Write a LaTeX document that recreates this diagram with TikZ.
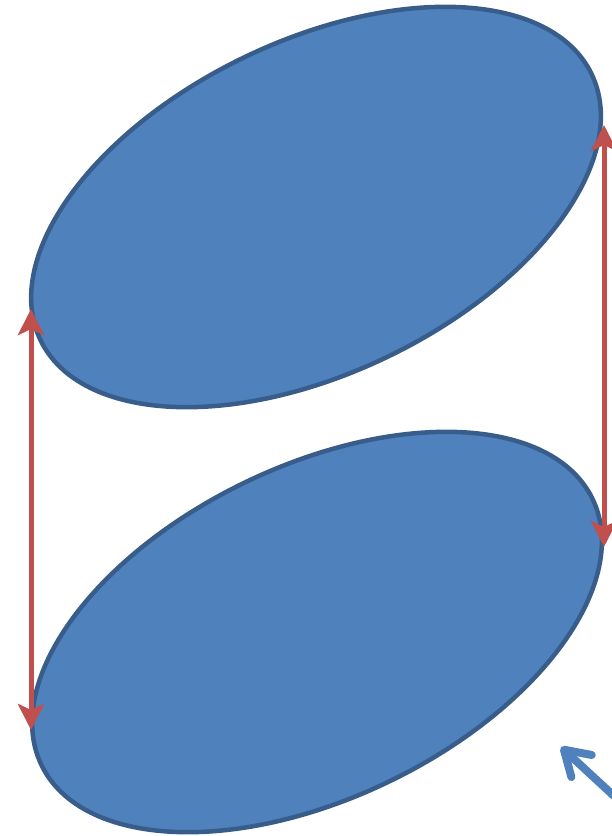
\documentclass[tikz,border=0pt]{standalone}
\usetikzlibrary{shapes.geometric,arrows.meta}
\definecolor{blobfill}{HTML}{4F81BD}
\definecolor{blobline}{HTML}{385D8A}
\definecolor{redarrow}{HTML}{C0504D}
\begin{document}
\begin{tikzpicture}[x=1pt,y=-1pt,
  blob/.style={ellipse, draw=blobline, fill=blobfill, line width=4.5pt,
    minimum width=612pt, minimum height=332pt, inner sep=0pt, outer sep=0pt, rotate=25.8},
  redlink/.style={draw=redarrow, line width=5pt,
    {Stealth[length=26pt,width=26pt,inset=6pt]}-{Stealth[length=26pt,width=26pt,inset=6pt]}},
  bluearrow/.style={draw=blobfill, line width=8pt, line cap=round,
    -{Straight Barb[length=24pt,width=30pt,round]}}
]
\useasboundingbox (0,0) rectangle (611,836);
\node[blob] (top) at (316,207) {};
\node[blob] (bot) at (317,632) {};
\coordinate (la1) at (31,309);
\coordinate (la2) at (31,730);
\coordinate (ra1) at (604,125);
\coordinate (ra2) at (604,547);
\draw[redlink] (la1) -- (la2);
\draw[redlink] (ra1) -- (ra2);
\coordinate (bs) at (614,796);
\coordinate (bt) at (561,747);
\draw[bluearrow] (bs) -- (bt);
\end{tikzpicture}
\end{document}
